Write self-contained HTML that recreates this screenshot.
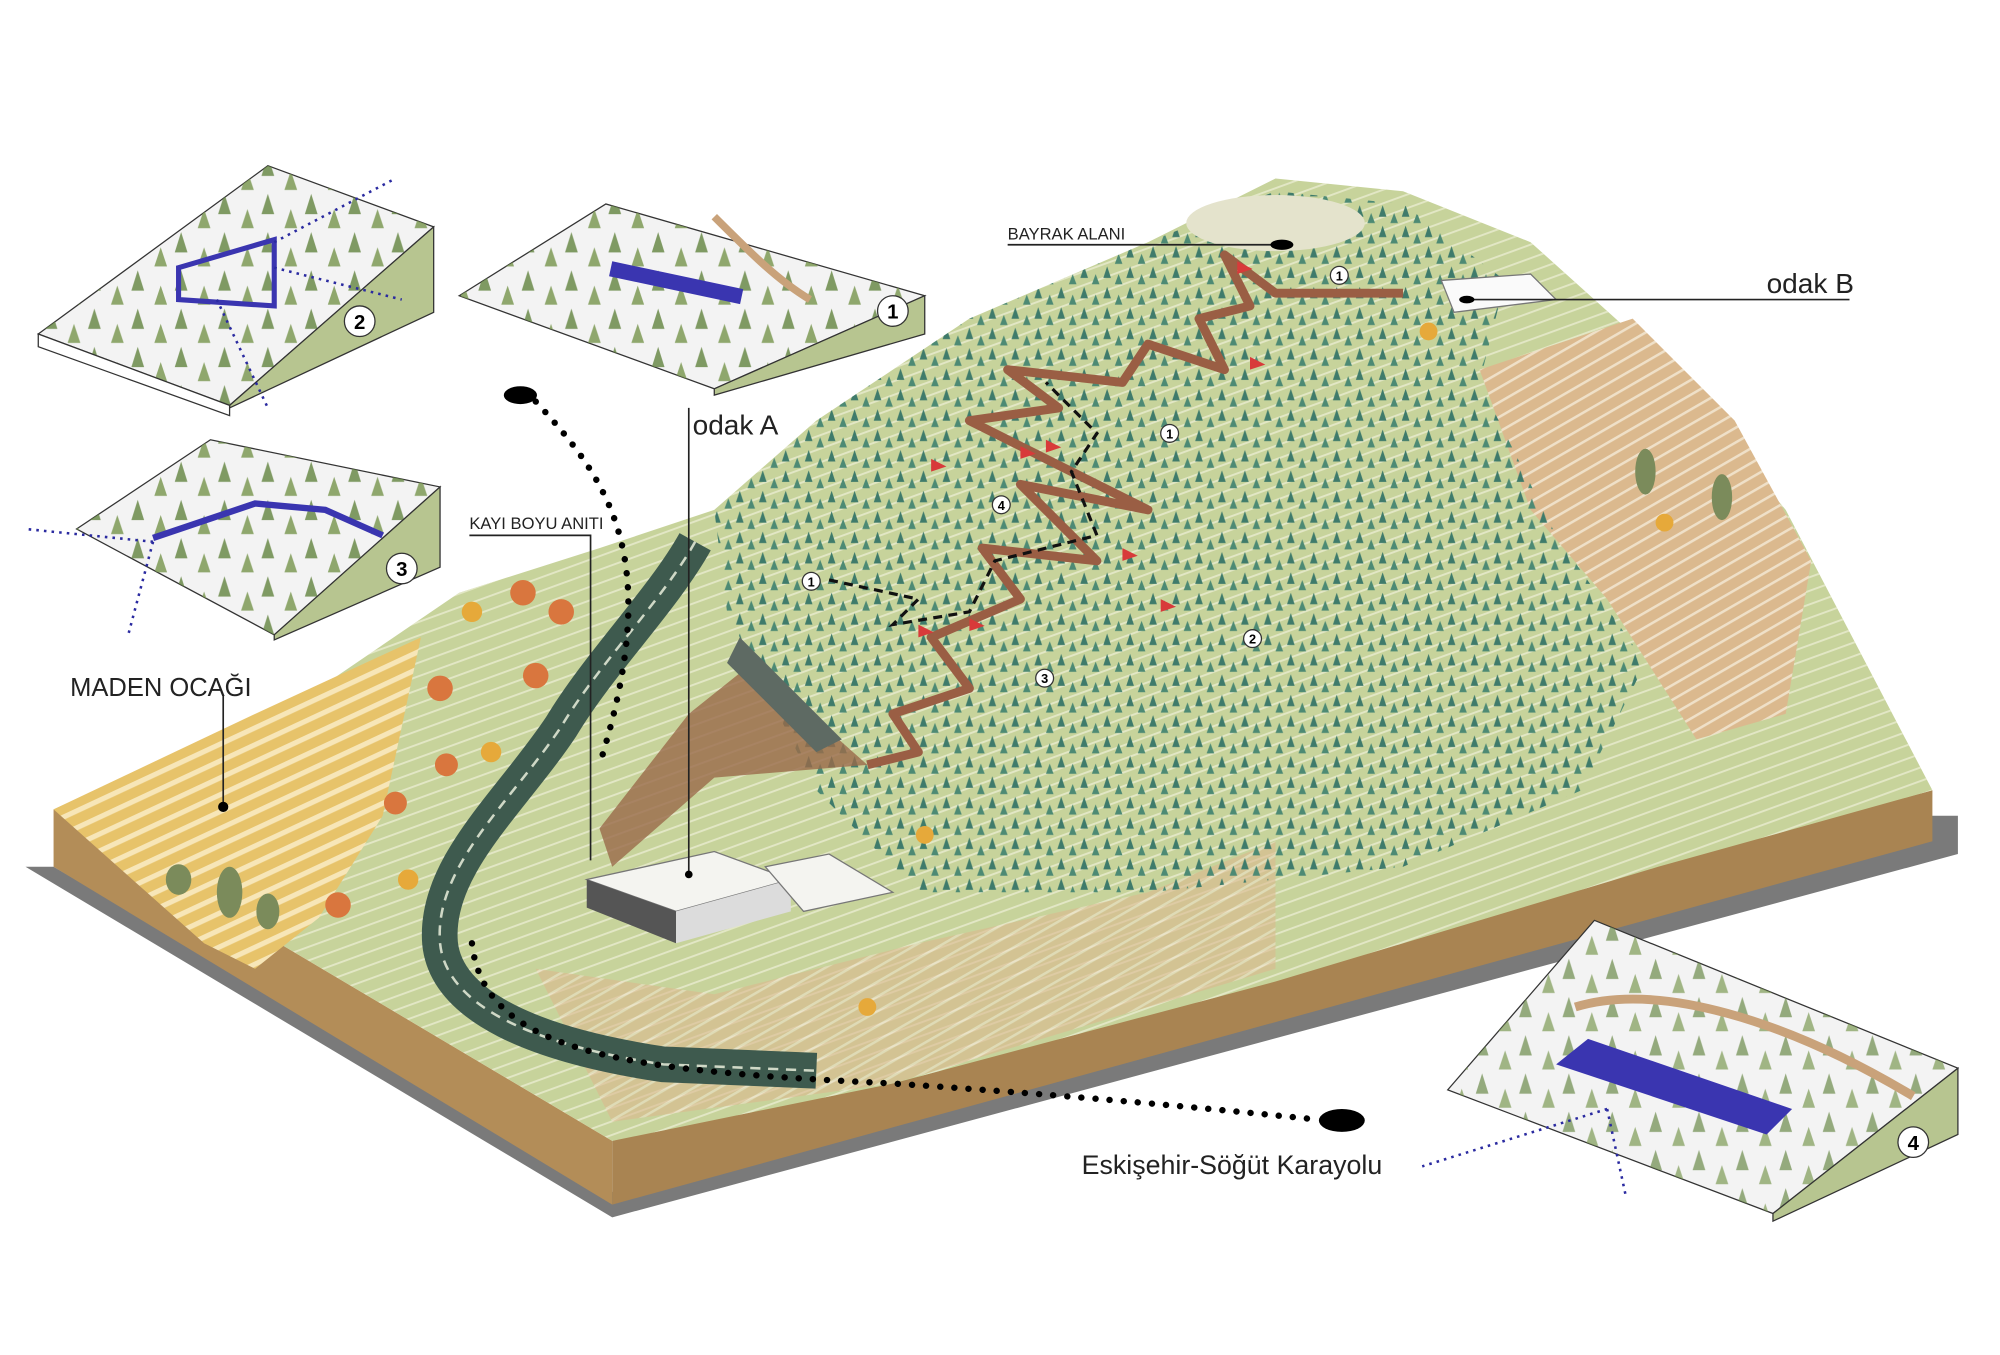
<!DOCTYPE html>
<html><head><meta charset="utf-8"><style>
html,body{margin:0;padding:0;background:#fff;}
svg{display:block;}
text{font-family:"Liberation Sans",sans-serif;}
</style></head><body>
<svg width="2000" height="1355" viewBox="0 0 1568 1063" preserveAspectRatio="none" xmlns="http://www.w3.org/2000/svg">
<defs>
<pattern id="trees" width="18" height="16" patternUnits="userSpaceOnUse">
<polygon points="4,1 1,10 7,10" fill="#3f7b6b"/>
<polygon points="13,7 10,15 16,15" fill="#4d8a74"/>
</pattern>
<pattern id="itrees" width="34" height="30" patternUnits="userSpaceOnUse">
<polygon points="6,2 1,18 11,18" fill="#6b8a4a"/>
<polygon points="24,14 19,29 29,29" fill="#7d9a55"/>
</pattern>
<pattern id="stripes" width="30" height="12" patternUnits="userSpaceOnUse" patternTransform="rotate(-25)">
<rect width="30" height="12" fill="#e7c36a"/><rect y="0" width="30" height="4" fill="#f7e6b8"/>
</pattern>
<pattern id="contour" width="40" height="10" patternUnits="userSpaceOnUse" patternTransform="rotate(-20)">
<rect width="40" height="1.5" fill="#eef0d8" opacity=".7"/>
</pattern>
<pattern id="tan" width="40" height="10" patternUnits="userSpaceOnUse" patternTransform="rotate(-30)">
<rect width="40" height="10" fill="#dbb98e"/><rect width="40" height="2" fill="#efe0c8"/>
</pattern>
<clipPath id="c2"><polygon points="30,262 210,130 340,178 180,318"/></clipPath>
<clipPath id="c1"><polygon points="360,232 475,160 725,232 560,305"/></clipPath>
<clipPath id="c3"><polygon points="60,415 165,345 345,382 215,498"/></clipPath>
<clipPath id="c4"><polygon points="1135,855 1250,722 1535,838 1390,952"/></clipPath>
</defs>
<rect width="1568" height="1063" fill="#fff"/>
<!-- shadow -->
<polygon points="20,680 480,955 1535,670 1535,640 1515,640 480,935 42,680" fill="#7a7a7a"/>
<!-- base sides -->
<polygon points="42,635 42,680 480,945 480,895" fill="#b38d58"/>
<polygon points="480,895 480,945 1515,660 1515,620" fill="#a98452"/>
<!-- terrain top -->
<polygon points="42,635 250,540 360,465 470,430 560,400 640,330 760,250 900,190 1000,140 1100,150 1200,190 1300,280 1400,400 1515,620 1300,680 1000,770 700,850 480,895" fill="#c7d39b"/>
<polygon points="42,635 250,540 360,465 470,430 560,400 640,330 760,250 900,190 1000,140 1100,150 1200,190 1300,280 1400,400 1515,620 1300,680 1000,770 700,850 480,895" fill="url(#contour)"/>
<!-- yellow quarry -->
<polygon points="42,635 200,560 330,500 300,640 250,720 200,760 160,740" fill="url(#stripes)"/>
<!-- tan areas -->
<polygon points="1160,290 1280,250 1360,330 1420,440 1400,560 1330,580 1260,470 1200,400" fill="url(#tan)"/>
<polygon points="420,760 560,780 720,740 900,700 1000,660 1000,760 700,850 480,880" fill="url(#tan)" opacity=".6"/>
<!-- trees on mountain -->
<polygon points="560,400 640,330 760,250 900,190 1000,150 1100,160 1180,220 1160,300 1220,420 1290,520 1240,620 1100,680 900,700 720,700 640,620 570,480" fill="url(#trees)"/>
<ellipse cx="1000" cy="175" rx="70" ry="22" fill="#e4e3cc"/>
<!-- road -->
<path d="M545,425 C520,470 470,520 440,570 C400,630 340,680 345,740 C350,790 420,820 520,835 L640,840" fill="none" stroke="#3e5a4e" stroke-width="28"/>
<path d="M545,425 C520,470 470,520 440,570 C400,630 340,680 345,740 C350,790 420,820 520,835 L640,840" fill="none" stroke="#cfd8c6" stroke-width="2" stroke-dasharray="8 6"/>
<!-- monument strip -->
<polygon points="470,650 540,560 590,520 680,600 560,610 480,680" fill="#9a6a4a" opacity=".8"/>
<polygon points="580,500 660,580 640,590 570,520" fill="#5e6a63"/>
<!-- trail -->
<path d="M680,600 L720,590 700,560 760,540 730,500 800,470 770,430 860,440 800,380 900,400 760,330 830,320 790,290 880,300 900,270 960,290 940,250 980,240 960,200 1000,230 1100,230" fill="none" stroke="#9a5e44" stroke-width="7" stroke-linejoin="round"/>
<path d="M650,455 L720,470 700,490 760,480 780,440 860,420 840,370 860,340 820,300" fill="none" stroke="#111" stroke-width="2.5" stroke-dasharray="7 5"/>
<g fill="#d83a3a">
<polygon points="720,490 732,496 720,500"/><polygon points="760,485 772,491 760,495"/><polygon points="910,470 922,476 910,480"/><polygon points="880,430 892,436 880,440"/><polygon points="800,350 812,356 800,360"/><polygon points="820,345 832,351 820,355"/><polygon points="980,280 992,286 980,290"/><polygon points="970,205 982,211 970,215"/><polygon points="730,360 742,366 730,370"/>
</g>
<!-- buildings -->
<polygon points="460,690 560,668 620,690 530,715" fill="#f4f4f0" stroke="#777"/>
<polygon points="460,690 530,715 530,740 460,712" fill="#555"/>
<polygon points="530,715 620,690 620,715 530,740" fill="#dcdcdc"/>
<polygon points="600,680 650,670 700,700 630,715" fill="#f4f4f0" stroke="#777"/>
<polygon points="1130,220 1200,215 1220,235 1140,245" fill="#fafafa" stroke="#777"/>
<g fill="#d9763e"><circle cx="410" cy="465" r="10"/><circle cx="440" cy="480" r="10"/><circle cx="420" cy="530" r="10"/><circle cx="345" cy="540" r="10"/><circle cx="350" cy="600" r="9"/><circle cx="310" cy="630" r="9"/><circle cx="265" cy="710" r="10"/></g>
<g fill="#e6a93a"><circle cx="370" cy="480" r="8"/><circle cx="385" cy="590" r="8"/><circle cx="320" cy="690" r="8"/><circle cx="680" cy="790" r="7"/><circle cx="725" cy="655" r="7"/><circle cx="1120" cy="260" r="7"/><circle cx="1305" cy="410" r="7"/></g>
<g fill="#7b8b5b"><ellipse cx="140" cy="690" rx="10" ry="12"/><ellipse cx="180" cy="700" rx="10" ry="20"/><ellipse cx="210" cy="715" rx="9" ry="14"/><ellipse cx="1290" cy="370" rx="8" ry="18"/><ellipse cx="1350" cy="390" rx="8" ry="18"/></g>
<g font-size="10" text-anchor="middle" font-weight="bold">
<circle cx="1050" cy="216" r="7" fill="#fff" stroke="#333"/><text x="1050" y="220">1</text>
<circle cx="917" cy="340" r="7" fill="#fff" stroke="#333"/><text x="917" y="344">1</text>
<circle cx="785" cy="396" r="7" fill="#fff" stroke="#333"/><text x="785" y="400">4</text>
<circle cx="636" cy="456" r="7" fill="#fff" stroke="#333"/><text x="636" y="460">1</text>
<circle cx="982" cy="501" r="7" fill="#fff" stroke="#333"/><text x="982" y="505">2</text>
<circle cx="819" cy="532" r="7" fill="#fff" stroke="#333"/><text x="819" y="536">3</text>
</g>
<!-- dotted lines -->
<path d="M420,315 C480,380 520,440 470,600" fill="none" stroke="#000" stroke-width="5" stroke-dasharray="0.1 11" stroke-linecap="round"/>
<ellipse cx="408" cy="310" rx="13" ry="7" fill="#000"/>
<path d="M370,740 C380,830 500,840 700,850 C850,860 950,870 1030,878" fill="none" stroke="#000" stroke-width="5" stroke-dasharray="0.1 11" stroke-linecap="round"/>
<ellipse cx="1052" cy="879" rx="18" ry="9" fill="#000"/>
<g stroke="#222" stroke-width="1.3" fill="none">
<polyline points="540,320 540,686"/><polyline points="368,420 463,420 463,675"/><polyline points="175,545 175,630"/>
<polyline points="790,192 1005,192"/><polyline points="1145,235 1450,235"/>
</g>
<circle cx="540" cy="686" r="3"/><circle cx="175" cy="633" r="4"/><ellipse cx="1005" cy="192" rx="9" ry="4"/><ellipse cx="1150" cy="235" rx="6" ry="3"/>
<g fill="#222">
<text x="543" y="341" font-size="22">odak A</text>
<text x="1385" y="230" font-size="22">odak B</text>
<text x="368" y="415" font-size="13">KAYI BOYU ANITI</text>
<text x="790" y="188" font-size="13">BAYRAK ALANI</text>
<text x="55" y="546" font-size="20">MADEN OCAĞI</text>
<text x="848" y="921" font-size="21">Eskişehir-Söğüt Karayolu</text>
</g>
<!-- insets -->
<polygon points="30,262 210,130 340,178 180,318" fill="#f3f3f3" stroke="#333"/>
<rect x="0" y="100" width="400" height="250" fill="url(#itrees)" clip-path="url(#c2)" opacity=".85"/>
<polygon points="180,318 340,178 340,245 180,320" fill="#b7c590" stroke="#333"/>
<polygon points="30,262 180,318 180,326 30,272" fill="#fff" stroke="#333"/>
<polygon points="140,210 215,188 215,240 140,235" fill="none" stroke="#3a35b0" stroke-width="4"/>
<circle cx="282" cy="252" r="12" fill="#fff" stroke="#333"/><text x="282" y="258" font-size="16" font-weight="bold" text-anchor="middle">2</text>

<polygon points="360,232 475,160 725,232 560,305" fill="#f3f3f3" stroke="#333"/>
<rect x="340" y="140" width="400" height="180" fill="url(#itrees)" clip-path="url(#c1)" opacity=".85"/>
<polygon points="560,305 725,232 725,262 560,310" fill="#b7c590" stroke="#333"/>
<rect x="480" y="205" width="105" height="12" fill="#3a35b0" transform="rotate(12 480 205)"/>
<path d="M560,170 C590,200 610,220 635,235" fill="none" stroke="#c9a27a" stroke-width="6"/>
<circle cx="700" cy="244" r="12" fill="#fff" stroke="#333"/><text x="700" y="250" font-size="16" font-weight="bold" text-anchor="middle">1</text>

<polygon points="60,415 165,345 345,382 215,498" fill="#f3f3f3" stroke="#333"/>
<rect x="40" y="330" width="320" height="180" fill="url(#itrees)" clip-path="url(#c3)" opacity=".85"/>
<polygon points="215,498 345,382 345,445 215,502" fill="#b7c590" stroke="#333"/>
<path d="M120,422 L200,395 L255,400 L300,420" fill="none" stroke="#3a35b0" stroke-width="5"/>
<circle cx="315" cy="446" r="12" fill="#fff" stroke="#333"/><text x="315" y="452" font-size="16" font-weight="bold" text-anchor="middle">3</text>

<polygon points="1135,855 1250,722 1535,838 1390,952" fill="#f3f3f3" stroke="#333"/>
<rect x="1120" y="700" width="430" height="270" fill="url(#itrees)" clip-path="url(#c4)" opacity=".7"/>
<polygon points="1390,952 1535,838 1535,890 1390,958" fill="#b7c590" stroke="#333"/>
<path d="M1235,790 C1300,770 1400,800 1500,860" fill="none" stroke="#c9a27a" stroke-width="7"/>
<polygon points="1220,835 1245,815 1405,870 1385,890" fill="#3a35b0"/>
<circle cx="1500" cy="896" r="12" fill="#fff" stroke="#333"/><text x="1500" y="902" font-size="16" font-weight="bold" text-anchor="middle">4</text>

<g stroke="#2a2aa0" stroke-width="2" stroke-dasharray="2 4" fill="none">
<line x1="215" y1="190" x2="310" y2="140"/><line x1="215" y1="210" x2="315" y2="235"/><line x1="170" y1="235" x2="210" y2="320"/>
<line x1="120" y1="425" x2="20" y2="415"/><line x1="120" y1="425" x2="100" y2="500"/>
<line x1="1260" y1="870" x2="1115" y2="915"/><line x1="1260" y1="870" x2="1275" y2="940"/>
</g>
</svg>
</body></html>
